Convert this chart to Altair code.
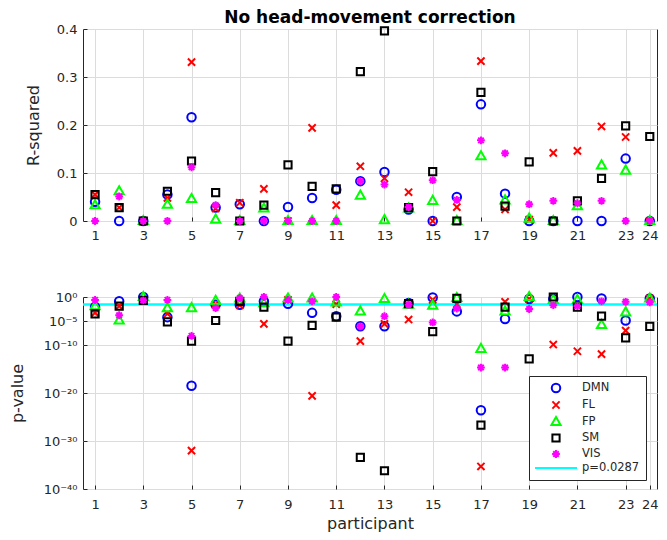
import altair as alt
import pandas as pd

participants = list(range(1, 25))
series = ["DMN", "FL", "FP", "SM", "VIS"]
threshold_label = "p=0.0287"
threshold = 0.0287

# R-squared per participant
r2_dmn = [0.040, 0.0, 0.0, 0.055, 0.216, 0.028, 0.035, 0.0, 0.029, 0.048, 0.065, 0.083,
          0.102, 0.024, 0.0, 0.050, 0.243, 0.057, 0.0, 0.0, 0.0, 0.0, 0.130, 0.0]
r2_fl = [0.055, 0.028, 0.0, 0.048, 0.331, 0.026, 0.038, 0.067, 0.0, 0.194, 0.033, 0.114,
         0.089, 0.060, 0.0, 0.029, 0.333, 0.024, 0.003, 0.142, 0.146, 0.197, 0.175, 0.0]
r2_fp = [0.033, 0.062, 0.0, 0.034, 0.046, 0.003, 0.0, 0.026, 0.0, 0.0, 0.0, 0.053,
         0.002, 0.026, 0.042, 0.0, 0.135, 0.043, 0.005, 0.0, 0.031, 0.116, 0.105, 0.0]
r2_sm = [0.055, 0.028, 0.0, 0.062, 0.125, 0.059, 0.0, 0.033, 0.117, 0.072, 0.067, 0.311,
         0.396, 0.028, 0.103, 0.0, 0.268, 0.031, 0.123, 0.0, 0.042, 0.089, 0.198, 0.176]
r2_vis = [0.0, 0.051, 0.0, 0.0, 0.112, 0.033, 0.0, 0.0, 0.0, 0.0, 0.0, 0.083,
          0.076, 0.029, 0.085, 0.044, 0.168, 0.141, 0.035, 0.042, 0.037, 0.042, 0.0, 0.0]

lp_dmn = [-2.1, -0.9, 0.0, -4.2, -18.5, -1.6, -1.6, -0.9, -1.4, -3.3, -4.0, -6.1,
          -6.1, -1.25, -0.1, -3.0, -23.6, -4.6, -0.4, -0.4, 0.0, -0.3, -4.9, -0.3]
lp_fl = [-3.3, -1.9, -0.5, -3.5, -32.0, -1.5, -1.7, -5.6, -0.6, -20.6, -1.5, -9.2,
         -5.6, -4.7, -0.6, -1.5, -35.3, -1.0, -0.4, -9.9, -11.3, -11.9, -7.0, -0.3]
lp_fp = [-1.9, -4.9, 0.0, -2.3, -2.3, -0.8, -0.3, -1.3, -0.3, -0.3, -1.1, -3.0,
         -0.4, -1.6, -1.8, -0.2, -10.8, -3.0, 0.0, -0.6, -0.6, -5.8, -3.2, -0.3]
lp_sm = [-3.5, -1.9, -0.7, -5.2, -9.2, -4.9, -0.9, -2.1, -9.2, -5.9, -4.2, -33.4,
         -36.2, -1.4, -7.2, -0.3, -26.7, -2.1, -12.9, 0.0, -2.1, -4.0, -8.5, -6.1]
lp_vis = [-0.6, -3.8, -0.7, -0.6, -8.1, -2.3, -0.2, 0.0, -0.6, -0.9, 0.0, -6.1,
          -4.0, -1.6, -5.3, -2.4, -14.7, -14.7, -2.5, -1.7, -1.9, -0.9, -1.0, -1.1]

x_ticks = [1, 3, 5, 7, 9, 11, 13, 15, 17, 19, 21, 23, 24]
r2_ticks = [0, 0.1, 0.2, 0.3, 0.4]
p_ticks = [1, 1e-5, 1e-10, 1e-20, 1e-30, 1e-40]

rows = []
for name, r2s, lps in zip(series, [r2_dmn, r2_fl, r2_fp, r2_sm, r2_vis],
                          [lp_dmn, lp_fl, lp_fp, lp_sm, lp_vis]):
    for p, r, e in zip(participants, r2s, lps):
        rows.append({"participant": p, "network": name, "r2": r, "p": 10.0 ** e})
df = pd.DataFrame(rows)

cats = series + [threshold_label]
colors = ["#0000ff", "#ff0000", "#00ff00", "#000000", "#ff00ff", "#00ffff"]
# marker outlines (symbol size 100 -> 5 px per path unit)
circle_path = "M0.85,0A0.85,0.85 0 1,1 -0.85,0A0.85,0.85 0 1,1 0.85,0Z"
x_path = "M-0.72,-0.72L0.72,0.72M-0.72,0.72L0.72,-0.72"
tri_path = "M0,-1L0.92,0.62L-0.92,0.62Z"
square_path = "M-0.72,-0.72L0.72,-0.72L0.72,0.72L-0.72,0.72Z"
star_path = ("M-0.78,0L0.78,0M0,-0.78L0,0.78M-0.55,-0.55L0.55,0.55"
             "M-0.55,0.55L0.55,-0.55")
line_path = "M-4.2,0L4.2,0"
shapes = [circle_path, x_path, tri_path, square_path, star_path, line_path]

FONT = "DejaVu Sans"
INK = "#262626"
W, H = 574, 192
XSCALE = alt.Scale(domain=[0.5, 24.3], nice=False, zero=False)


def marks(yfield, yaxis, yscale, xaxis, legend):
    return alt.Chart(df).mark_point(filled=False, strokeWidth=2, opacity=1, size=100).encode(
        x=alt.X("participant:Q", scale=XSCALE, axis=xaxis),
        y=alt.Y(yfield, scale=yscale, axis=yaxis),
        color=alt.Color("network:N", scale=alt.Scale(domain=cats, range=colors), legend=legend),
        shape=alt.Shape("network:N", scale=alt.Scale(domain=cats, range=shapes), legend=legend),
    )


top = marks(
    "r2:Q",
    alt.Axis(values=r2_ticks, title="R-squared", format="~g", tickSize=4, offset=-4,
             domain=False, labelPadding=6, titlePadding=15),
    alt.Scale(domain=[0, 0.4], nice=False, zero=False),
    alt.Axis(values=x_ticks, title=None, format="d", labelPadding=8,
             tickSize=4, offset=-4, domain=False),
    None,
).properties(
    width=W, height=H,
    title=alt.TitleParams("No head-movement correction", font=FONT, fontSize=17,
                          fontWeight="bold", color="#000000", anchor="middle",
                          frame="group", offset=-4),
)

label_expr = ("datum.value > 0.5 ? '10⁰' : datum.value > 1e-7 ? '10⁻⁵' : "
              "datum.value > 1e-12 ? '10⁻¹⁰' : datum.value > 1e-22 ? '10⁻²⁰' : "
              "datum.value > 1e-32 ? '10⁻³⁰' : '10⁻⁴⁰'")

legend = alt.Legend(title=None, orient="none", legendX=W - 128, legendY=79,
                    labelFont=FONT, labelFontSize=11.5, labelColor=INK,
                    symbolStrokeWidth=2, symbolSize=100, symbolOffset=15,
                    strokeColor=INK, fillColor="#ffffff", padding=6, rowPadding=0,
                    labelOffset=20)

pts = marks(
    "p:Q",
    alt.Axis(values=p_ticks, title="p-value", labelExpr=label_expr, tickSize=4, offset=-4,
             domain=False, labelPadding=6, titlePadding=18),
    alt.Scale(type="log", domain=[1e-40, 1], nice=False),
    alt.Axis(values=x_ticks, title="participant", format="d", labelPadding=9,
             tickSize=4, offset=-4, domain=False, titlePadding=4),
    legend,
)
rule = alt.Chart(pd.DataFrame({"p": [threshold]})).mark_rule(
    color="#00ffff", strokeWidth=2.5).encode(y=alt.Y("p:Q"))

bottom = alt.layer(rule, pts).properties(width=W, height=H)

chart = alt.vconcat(top, bottom, spacing=44).resolve_scale(
    color="independent", shape="independent"
).resolve_legend(
    color="independent", shape="independent"
).configure(
    padding={"left": 0, "top": 0, "right": 0, "bottom": 0},
).configure_axis(
    labelFont=FONT, labelFontSize=13, labelColor=INK,
    titleFont=FONT, titleFontSize=16, titleFontWeight="normal", titleColor=INK,
    gridColor="#dcdcdc", gridWidth=1, tickColor=INK, tickWidth=1,
).configure_view(
    stroke=INK, strokeWidth=1,
)

chart.save("out.html", embed_options={"renderer": "svg", "actions": False})
